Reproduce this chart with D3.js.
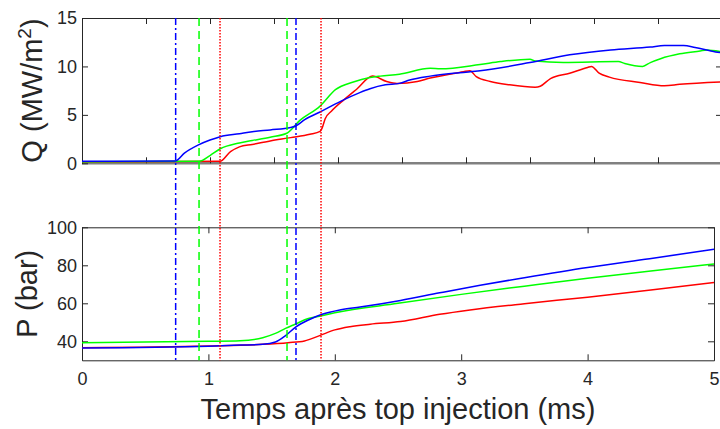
<!DOCTYPE html>
<html><head><meta charset="utf-8">
<script src="https://cdn.jsdelivr.net/npm/d3@7"></script>
<style>
html,body{margin:0;padding:0;background:#fff;}
svg{display:block;}
text{font-family:"Liberation Sans",Arial,Helvetica,sans-serif;fill:#262626;}
</style></head>
<body><svg id="c" width="720" height="429"></svg>
<script>
// ---- DATA ----
// Top panel: heat flux Q (MW/m^2) vs time (ms)
const qBlueT = [0,0.73,0.80,0.91,1.0,1.08,1.23,1.33,1.47,1.63,1.67,1.74,1.86,2.02,2.17,2.25,2.37,2.48,2.56,2.72,2.95,3.11,3.5,3.81,4.13,4.44,4.55,4.70,4.79,4.95,5.0];
const qBlueV = [0.2,0.25,1.05,1.9,2.4,2.75,3.05,3.25,3.45,3.7,3.85,4.5,5.3,6.4,7.3,7.7,8.1,8.25,8.6,9.0,9.35,9.55,10.4,11.2,11.7,12.0,12.15,12.15,11.95,11.5,11.4];
const qGreenT = [0,0.914,1.0,1.08,1.23,1.33,1.47,1.60,1.70,1.86,1.98,2.12,2.25,2.33,2.48,2.72,2.80,3.11,3.27,3.50,3.54,3.76,4.19,4.24,4.38,4.44,4.52,4.67,4.83,4.88,5.0];
const qGreenV = [0.15,0.2,0.8,1.5,2.1,2.35,2.7,3.1,4.4,5.9,7.6,8.4,8.85,9.0,9.2,9.8,9.75,10.2,10.5,10.75,10.55,10.4,10.5,10.3,10.0,10.4,10.8,11.3,11.6,11.7,11.5];
const qRedT = [0,1.078,1.16,1.23,1.33,1.47,1.63,1.78,1.86,1.875,1.90,1.95,2.05,2.15,2.27,2.38,2.46,2.62,2.72,2.98,3.03,3.08,3.19,3.34,3.54,3.58,3.66,3.81,3.95,3.98,4.04,4.12,4.36,4.55,4.67,5.0];
const qRedV = [0.15,0.2,1.2,1.7,1.95,2.3,2.65,3.0,3.3,3.6,4.6,5.4,6.6,7.7,9.0,8.45,8.25,8.45,8.8,9.45,9.56,8.95,8.45,8.1,7.85,7.95,8.75,9.3,9.9,10.0,9.3,8.9,8.35,8.0,8.15,8.4];
// Bottom panel: pressure P (bar) vs time (ms)
const pBlueT = [0,1.0,1.25,1.43,1.53,1.61,1.69,1.80,1.90,2.04,2.20,2.52,2.83,3.15,3.5,4.0,4.49,5.0];
const pBlueV = [36.5,37.4,38.0,38.4,39.6,43.0,47.5,51.5,54.2,56.5,58.0,61.5,65.5,69.5,73.5,78.9,83.5,88.4];
const pGreenT = [0,1.0,1.25,1.43,1.53,1.61,1.69,1.79,1.88,2.0,2.5,3.0,3.5,4.0,4.5,5.0];
const pGreenV = [39.3,40.0,40.3,41.9,44.2,46.8,49.1,52.0,53.2,55.0,60.0,64.7,69.0,73.2,77.0,80.7];
const pRedT = [0,1.0,1.43,1.63,1.76,1.88,2.0,2.12,2.28,2.52,2.83,3.07,3.5,4.0,4.5,5.0];
const pRedV = [36.6,37.5,38.4,39.3,40.2,43.0,46.0,47.7,49.0,50.4,54.2,56.5,59.8,63.2,67.0,71.0];
// Vertical markers (ms)
const markT = [0.741,1.693,0.926,1.622,1.092,1.891];
const markC = ["blue","blue","green","green","red","red"];
// Ticks
const qTicks = [0,5,10,15];
const topXTicks = [0.5,1,1.5,2,2.5,3,3.5,4,4.5];
const pTicks = [40,60,80,100];
const xTicks = [0,1,2,3,4,5];

const col = {blue:"#0000ff", green:"#00ff00", red:"#ff0000"};
const dash = {blue:"7,3,2,3", green:"8,5", red:"1.5,1.5"};

const svg = d3.select("#c");
const xTop = d3.scaleLinear([0,5],[82,722]);
const yQ = d3.scaleLinear([0,15],[163.3,18]);
const xP = d3.scaleLinear([0,5],[82,714]);
const yP = d3.scaleLinear([30,100],[360.3,227.3]);
const fmt = d3.format("d");

function styleAxis(g){
  g.selectAll("path.domain").attr("stroke","#262626");
  g.selectAll(".tick line").attr("stroke","#262626");
  g.selectAll(".tick text").attr("fill","#262626").style("font-size","18px").attr("font-family",null);
}

// ---- Top panel ----
const gT = svg.append("g");
gT.append("line").attr("x1",82).attr("x2",722).attr("y1",yQ(0)).attr("y2",yQ(0)).attr("stroke","#808080").attr("stroke-width",2.5);
gT.append("g").attr("transform","translate(82,0)").call(d3.axisLeft(yQ).tickValues(qTicks).tickFormat(fmt).tickSize(-6).tickPadding(5).tickSizeOuter(0)).call(styleAxis);
gT.append("g").attr("transform","translate(722,0)").call(d3.axisRight(yQ).tickValues([5,10]).tickSize(-6).tickFormat("").tickSizeOuter(0)).call(styleAxis);
gT.append("g").attr("transform","translate(0,18)").call(d3.axisTop(xTop).tickValues(topXTicks).tickSize(-6).tickFormat("").tickSizeOuter(0)).call(styleAxis);
const gTb = gT.append("g").attr("transform",`translate(0,${yQ(0)})`).call(d3.axisBottom(xTop).tickValues(topXTicks).tickSize(-6).tickFormat("").tickSizeOuter(0)).call(styleAxis);
gTb.select("path.domain").remove();

// ---- Bottom panel ----
const gB = svg.append("g");
gB.append("g").attr("transform","translate(82,0)").call(d3.axisLeft(yP).tickValues(pTicks).tickFormat(fmt).tickSize(-6).tickPadding(5).tickSizeOuter(0)).call(styleAxis);
gB.append("g").attr("transform","translate(714,0)").call(d3.axisRight(yP).tickValues(pTicks).tickSize(-6).tickFormat("").tickSizeOuter(0)).call(styleAxis);
gB.append("g").attr("transform","translate(0,227.3)").call(d3.axisTop(xP).tickValues(xTicks).tickSize(-6).tickFormat("").tickSizeOuter(0)).call(styleAxis);
gB.append("g").attr("transform","translate(0,360.3)").call(d3.axisBottom(xP).tickValues(xTicks).tickFormat(fmt).tickSize(-6).tickPadding(12).tickSizeOuter(0)).call(styleAxis);

// ---- curves ----
function drawSeries(g, xs, ts, vs, ys, c){
  const pts = ts.map((t,i)=>[t, vs[i]]);
  const line = d3.line().x(d=>xs(d[0])).y(d=>ys(d[1])).curve(d3.curveMonotoneX);
  g.append("path").datum(pts).attr("d",line).attr("fill","none").attr("stroke",col[c]).attr("stroke-width",1.5).attr("stroke-linejoin","round");
}
drawSeries(gT, xTop, qRedT, qRedV, yQ, "red");
drawSeries(gT, xTop, qGreenT, qGreenV, yQ, "green");
drawSeries(gT, xTop, qBlueT, qBlueV, yQ, "blue");
drawSeries(gB, xP, pRedT, pRedV, yP, "red");
drawSeries(gB, xP, pGreenT, pGreenV, yP, "green");
drawSeries(gB, xP, pBlueT, pBlueV, yP, "blue");

// ---- vertical markers ----
markT.forEach((t,i)=>{
  const c = markC[i];
  svg.append("line").attr("x1",xP(t)).attr("x2",xP(t)).attr("y1",18).attr("y2",360.3)
    .attr("stroke",col[c]).attr("stroke-width",1.5).attr("stroke-dasharray",dash[c]);
});

// ---- labels ----
const lq = svg.append("text").attr("transform","translate(42,90.5) rotate(-90)").attr("text-anchor","middle").style("font-size","29px");
lq.append("tspan").text("Q (MW/m");
lq.append("tspan").text("2").style("font-size","19px").attr("dy","-11");
lq.append("tspan").text(")").attr("dy","11");
svg.append("text").attr("transform","translate(37,293.8) rotate(-90)").attr("text-anchor","middle").style("font-size","29px").text("P (bar)");
svg.append("text").attr("x",398).attr("y",419).attr("text-anchor","middle").style("font-size","29px").text("Temps après top injection (ms)");
</script></body></html>
